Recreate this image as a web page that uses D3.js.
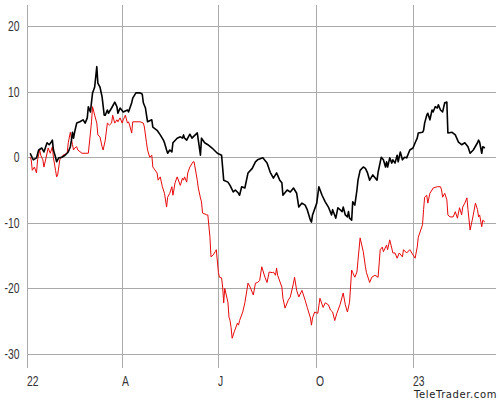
<!DOCTYPE html>
<html>
<head>
<meta charset="utf-8">
<script src="https://cdn.jsdelivr.net/npm/d3@7"></script>
<style>
  html, body { margin: 0; padding: 0; background: #fff; }
  svg { display: block; }
</style>
</head>
<body>
<svg id="chart" width="500" height="400"></svg>
<script>
// ---- data ----
const blackDates = ["2022-01-04","2022-01-06","2022-01-07","2022-01-10","2022-01-12","2022-01-15","2022-01-17","2022-01-20","2022-01-22","2022-01-24","2022-01-25","2022-01-26","2022-01-28","2022-01-29","2022-01-31","2022-02-03","2022-02-06","2022-02-09","2022-02-11","2022-02-12","2022-02-13","2022-02-14","2022-02-15","2022-02-17","2022-02-20","2022-02-23","2022-02-25","2022-02-27","2022-02-28","2022-03-02","2022-03-03","2022-03-04","2022-03-06","2022-03-08","2022-03-09","2022-03-11","2022-03-13","2022-03-15","2022-03-16","2022-03-18","2022-03-19","2022-03-22","2022-03-25","2022-03-27","2022-03-28","2022-03-30","2022-04-02","2022-04-06","2022-04-07","2022-04-10","2022-04-11","2022-04-14","2022-04-18","2022-04-20","2022-04-21","2022-04-23","2022-04-24","2022-04-25","2022-04-29","2022-04-30","2022-05-04","2022-05-07","2022-05-10","2022-05-11","2022-05-13","2022-05-14","2022-05-16","2022-05-18","2022-05-19","2022-05-23","2022-05-26","2022-05-28","2022-05-29","2022-05-30","2022-06-01","2022-06-04","2022-06-06","2022-06-11","2022-06-12","2022-06-14","2022-06-15","2022-06-18","2022-06-21","2022-06-25","2022-06-30","2022-07-04","2022-07-06","2022-07-10","2022-07-12","2022-07-15","2022-07-17","2022-07-20","2022-07-21","2022-07-23","2022-07-26","2022-07-29","2022-08-02","2022-08-05","2022-08-07","2022-08-12","2022-08-16","2022-08-19","2022-08-22","2022-08-25","2022-08-28","2022-08-30","2022-08-31","2022-09-04","2022-09-07","2022-09-10","2022-09-13","2022-09-15","2022-09-18","2022-09-21","2022-09-23","2022-09-26","2022-09-27","2022-09-28","2022-10-02","2022-10-04","2022-10-07","2022-10-10","2022-10-13","2022-10-16","2022-10-17","2022-10-20","2022-10-22","2022-10-26","2022-10-27","2022-10-29","2022-10-31","2022-11-01","2022-11-02","2022-11-04","2022-11-05","2022-11-07","2022-11-09","2022-11-10","2022-11-12","2022-11-15","2022-11-17","2022-11-19","2022-11-21","2022-11-24","2022-11-28","2022-11-29","2022-12-02","2022-12-04","2022-12-06","2022-12-07","2022-12-08","2022-12-10","2022-12-12","2022-12-13","2022-12-15","2022-12-17","2022-12-18","2022-12-20","2022-12-22","2022-12-24","2022-12-26","2022-12-29","2023-01-01","2023-01-03","2023-01-05","2023-01-06","2023-01-10","2023-01-11","2023-01-12","2023-01-14","2023-01-15","2023-01-17","2023-01-19","2023-01-20","2023-01-22","2023-01-24","2023-01-25","2023-01-27","2023-01-29","2023-01-31","2023-02-02","2023-02-03","2023-02-07","2023-02-10","2023-02-13","2023-02-16","2023-02-19","2023-02-22","2023-02-24","2023-02-27","2023-03-03","2023-03-04","2023-03-05","2023-03-07","2023-03-08","2023-03-10"];
const blackValues = [0.6,-0.1,-0.4,-0.1,1.1,1.4,0.8,2.2,1.9,2.3,2.6,1.1,0.0,-0.7,-0.1,0.0,0.3,0.8,1.6,2.6,3.8,2.9,3.8,5.2,5.4,5.7,5.2,6.0,7.7,6.9,8.4,9.8,10.7,13.8,11.3,10.7,9.2,6.4,6.4,7.2,6.7,7.5,8.4,7.7,6.7,7.5,6.9,7.2,6.9,8.3,9.0,9.8,9.8,9.6,8.3,7.5,6.4,5.4,5.7,4.6,4.1,3.4,2.6,2.2,1.1,0.6,1.1,0.8,2.2,2.9,3.1,2.9,3.4,2.9,2.6,3.5,2.9,3.7,2.6,0.3,2.9,2.2,1.9,1.4,0.6,0.3,-3.5,-3.8,-4.3,-5.3,-5.0,-5.5,-5.8,-4.5,-4.7,-2.4,-1.7,-0.7,-0.4,-0.1,-0.9,-2.3,-3.2,-2.4,-3.5,-3.9,-5.8,-5.0,-5.3,-4.7,-5.5,-7.6,-7.0,-7.3,-8.0,-9.6,-9.9,-8.8,-7.0,-4.5,-5.8,-6.8,-7.6,-8.8,-8.0,-9.3,-7.7,-8.3,-7.6,-8.8,-9.1,-8.3,-9.3,-9.6,-6.8,-7.3,-5.0,-3.5,-2.0,-1.5,-1.7,-2.4,-3.5,-2.7,-3.5,-2.3,0.0,-0.4,-1.5,-0.7,-1.5,-0.1,-0.9,-0.4,-0.9,0.3,-0.7,0.8,-0.4,0.0,-0.1,1.1,1.4,2.2,2.9,3.7,3.8,4.1,5.2,6.4,6.7,5.7,7.2,6.9,7.7,7.5,8.0,7.2,6.9,8.3,8.4,3.7,3.8,3.4,2.3,1.9,2.2,1.6,0.6,1.1,2.2,2.6,2.3,0.6,1.6,1.4];

const redDates = ["2022-01-04","2022-01-05","2022-01-06","2022-01-08","2022-01-10","2022-01-11","2022-01-13","2022-01-14","2022-01-16","2022-01-17","2022-01-19","2022-01-21","2022-01-23","2022-01-25","2022-01-26","2022-01-28","2022-01-29","2022-01-30","2022-02-01","2022-02-04","2022-02-08","2022-02-09","2022-02-11","2022-02-13","2022-02-14","2022-02-15","2022-02-17","2022-02-18","2022-02-22","2022-02-28","2022-03-02","2022-03-03","2022-03-04","2022-03-06","2022-03-08","2022-03-09","2022-03-11","2022-03-13","2022-03-14","2022-03-16","2022-03-18","2022-03-20","2022-03-22","2022-03-23","2022-03-25","2022-03-27","2022-03-28","2022-03-30","2022-04-01","2022-04-02","2022-04-04","2022-04-06","2022-04-07","2022-04-08","2022-04-10","2022-04-11","2022-04-18","2022-04-21","2022-04-22","2022-04-24","2022-04-25","2022-04-27","2022-04-29","2022-04-30","2022-05-04","2022-05-05","2022-05-07","2022-05-09","2022-05-11","2022-05-13","2022-05-14","2022-05-16","2022-05-18","2022-05-19","2022-05-21","2022-05-23","2022-05-26","2022-05-28","2022-05-29","2022-05-30","2022-06-01","2022-06-02","2022-06-04","2022-06-07","2022-06-08","2022-06-11","2022-06-12","2022-06-14","2022-06-15","2022-06-16","2022-06-20","2022-06-21","2022-06-23","2022-06-24","2022-06-26","2022-06-28","2022-06-29","2022-07-01","2022-07-02","2022-07-04","2022-07-05","2022-07-06","2022-07-07","2022-07-10","2022-07-11","2022-07-12","2022-07-13","2022-07-14","2022-07-16","2022-07-19","2022-07-20","2022-07-21","2022-07-24","2022-07-26","2022-07-29","2022-07-31","2022-08-03","2022-08-05","2022-08-07","2022-08-09","2022-08-11","2022-08-14","2022-08-16","2022-08-18","2022-08-21","2022-08-22","2022-08-24","2022-08-25","2022-08-26","2022-08-30","2022-08-31","2022-09-02","2022-09-05","2022-09-07","2022-09-10","2022-09-11","2022-09-13","2022-09-15","2022-09-18","2022-09-21","2022-09-23","2022-09-26","2022-09-27","2022-09-28","2022-09-30","2022-10-03","2022-10-05","2022-10-08","2022-10-10","2022-10-13","2022-10-15","2022-10-17","2022-10-19","2022-10-21","2022-10-24","2022-10-27","2022-10-29","2022-10-31","2022-11-02","2022-11-04","2022-11-05","2022-11-07","2022-11-09","2022-11-10","2022-11-12","2022-11-15","2022-11-17","2022-11-18","2022-11-21","2022-11-23","2022-11-26","2022-11-29","2022-12-01","2022-12-03","2022-12-04","2022-12-07","2022-12-08","2022-12-10","2022-12-13","2022-12-15","2022-12-17","2022-12-19","2022-12-22","2022-12-23","2022-12-26","2022-12-29","2023-01-01","2023-01-03","2023-01-05","2023-01-06","2023-01-10","2023-01-11","2023-01-12","2023-01-14","2023-01-15","2023-01-17","2023-01-19","2023-01-20","2023-01-24","2023-01-27","2023-01-28","2023-01-29","2023-01-31","2023-02-02","2023-02-03","2023-02-05","2023-02-08","2023-02-10","2023-02-12","2023-02-13","2023-02-14","2023-02-16","2023-02-17","2023-02-19","2023-02-21","2023-02-22","2023-02-24","2023-02-26","2023-02-27","2023-03-01","2023-03-03","2023-03-04","2023-03-05","2023-03-07","2023-03-08","2023-03-10"];
const redValues = [0.0,-0.4,-2.0,-1.5,-2.4,-0.4,1.1,0.3,-0.4,-1.5,-0.1,1.4,0.6,1.6,-0.1,-2.0,-3.0,-2.7,-0.4,0.3,0.6,2.2,3.8,1.9,1.1,1.4,1.6,1.1,0.6,0.6,3.7,5.4,7.7,6.4,5.2,3.4,3.1,1.6,1.1,2.6,5.2,4.9,5.2,6.4,5.2,5.7,5.4,6.0,5.2,5.7,6.4,5.2,5.4,4.9,3.7,5.4,5.4,5.2,4.6,2.2,1.1,0.0,0.3,-1.5,-2.4,-3.5,-3.0,-4.5,-5.5,-7.6,-6.1,-5.5,-4.5,-5.8,-3.9,-3.0,-4.3,-3.2,-3.5,-3.0,-3.8,-2.4,-1.5,-0.7,-0.7,-3.5,-4.7,-6.2,-6.8,-8.5,-8.8,-8.8,-12.2,-15.2,-14.9,-14.4,-14.1,-17.6,-18.3,-18.4,-19.8,-22.2,-20.0,-22.1,-24.4,-24.9,-26.0,-27.6,-26.6,-25.3,-25.6,-24.9,-23.6,-22.2,-19.2,-19.8,-21.0,-19.2,-19.1,-18.8,-16.7,-18.3,-19.1,-17.5,-17.6,-17.5,-18.0,-16.9,-18.0,-19.8,-21.5,-23.0,-21.8,-21.3,-19.2,-18.3,-20.3,-21.3,-20.3,-21.8,-22.9,-24.5,-25.6,-24.5,-23.6,-23.8,-21.5,-22.9,-22.2,-22.5,-23.3,-23.6,-24.9,-23.8,-22.5,-20.7,-22.5,-23.6,-22.1,-17.2,-17.6,-18.3,-17.5,-15.7,-12.3,-14.4,-16.7,-17.6,-19.1,-18.3,-18.0,-18.3,-14.1,-13.7,-14.4,-13.4,-14.1,-12.6,-14.6,-14.6,-15.4,-14.6,-15.2,-14.1,-14.6,-14.1,-14.9,-15.4,-13.7,-12.2,-10.3,-8.0,-6.1,-5.8,-7.0,-5.5,-5.0,-4.7,-4.5,-4.5,-5.0,-6.1,-5.5,-6.5,-8.8,-9.1,-9.1,-8.3,-9.3,-8.5,-7.7,-8.8,-7.6,-7.0,-6.2,-8.0,-11.1,-9.6,-8.8,-7.0,-8.0,-9.1,-8.8,-10.6,-9.6,-9.9];

const yTicks = [20, 10, 0, -10, -20, -30];
const xTickDates = ["2022-01-01","2022-04-01","2022-07-01","2022-10-01","2023-01-01"];
const xTickLabels = ["22","A","J","O","23"];

// ---- chart ----
const parse = d3.timeParse("%Y-%m-%d");
const svg = d3.select("#chart");
const plotLeft = 27, plotRight = 496, plotTop = 5, plotBottom = 370;

const x = d3.scaleTime()
  .domain([parse("2022-01-01"), parse("2023-01-01")])
  .range([27, 413]);
const y = d3.scaleLinear().domain([-30, 20]).range([354, 26]);

const gridColor = "#aaaaaa";
const font = "'Liberation Sans', Arial, sans-serif";
const squeeze = 0.74;

// horizontal gridlines
svg.append("g").selectAll("line").data(yTicks).join("line")
  .attr("x1", plotLeft).attr("x2", plotRight)
  .attr("y1", d => Math.round(y(d)) + 0.5).attr("y2", d => Math.round(y(d)) + 0.5)
  .attr("stroke", gridColor).attr("stroke-width", 1);

// vertical gridlines (incl. left axis)
const xt = xTickDates.map(parse);
svg.append("g").selectAll("line").data(xt).join("line")
  .attr("x1", d => Math.round(x(d)) + 0.5).attr("x2", d => Math.round(x(d)) + 0.5)
  .attr("y1", plotTop).attr("y2", plotBottom - 2)
  .attr("stroke", gridColor).attr("stroke-width", 1);

// y labels (condensed)
svg.append("g").selectAll("text").data(yTicks).join("text")
  .attr("transform", d => `translate(19.5,${y(d) + 5}) scale(${squeeze},1)`)
  .attr("text-anchor", "end")
  .attr("font-family", font).attr("font-size", 14)
  .attr("fill", "#333")
  .text(d => d);

// x labels (condensed)
svg.append("g").selectAll("text").data(xt).join("text")
  .attr("transform", d => `translate(${Math.round(x(d))},385.5) scale(${squeeze},1)`)
  .attr("text-anchor", "start")
  .attr("font-family", font).attr("font-size", 14)
  .attr("fill", "#333")
  .text((d, i) => xTickLabels[i]);

// lines
const lineGen = d3.line().x(d => x(d.date)).y(d => y(d.value));
const redData = redDates.map((d, i) => ({date: parse(d), value: redValues[i]}));
const blackData = blackDates.map((d, i) => ({date: parse(d), value: blackValues[i]}));

svg.append("path").datum(redData)
  .attr("fill", "none").attr("stroke", "#e8080a").attr("stroke-width", 1)
  .attr("stroke-linejoin", "round")
  .attr("d", lineGen);
svg.append("path").datum(blackData)
  .attr("fill", "none").attr("stroke", "#000").attr("stroke-width", 1.6)
  .attr("stroke-linejoin", "round")
  .attr("d", lineGen);

// logo text
svg.append("text")
  .attr("x", 497).attr("y", 398)
  .attr("text-anchor", "end")
  .attr("font-family", "'DejaVu Sans', sans-serif").attr("font-size", 10)
  .attr("letter-spacing", 0.6)
  .attr("fill", "#222")
  .text("TeleTrader.com");
</script>
</body>
</html>
